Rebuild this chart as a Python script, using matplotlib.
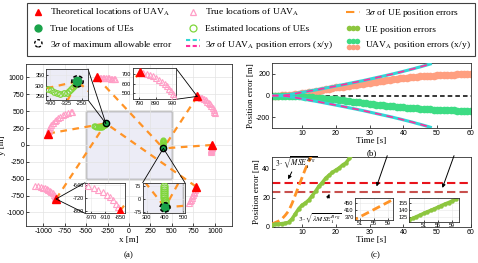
import numpy as np
import matplotlib
matplotlib.use("Agg")
import matplotlib.pyplot as plt
from matplotlib.lines import Line2D
from matplotlib.patches import Circle, Rectangle, ConnectionPatch
from matplotlib.legend_handler import HandlerBase, HandlerLine2D, HandlerPatch

plt.rcParams["font.family"] = "Liberation Sans"
plt.rcParams["mathtext.fontset"] = "stix"
plt.rcParams["axes.unicode_minus"] = False
SERIF = "Liberation Serif"

# -------------------------------
# Data: panel (a) scene [m]
# -------------------------------

uav_x = [-940, -375, 795, 965, 780, -850]
uav_y = [170, 1000, 720, 0, -615, -800]

traj1_x = [-940, -936, -928, -917, -903, -887, -868, -847, -824, -799, -772, -743, -712, -680, -660]
traj1_y = [170, 200, 232, 263, 293, 322, 350, 376, 400, 422, 442, 459, 474, 486, 492]
traj2_x = [-375, -358, -340, -322, -304, -286, -268, -250, -232, -214, -196, -178, -165]
traj2_y = [1000, 999, 998, 996, 995, 993, 991, 989, 987, 984, 982, 979, 977]
traj3_x = [795, 815, 835, 855, 875, 895, 913, 930, 946, 960, 973, 985, 995, 1003]
traj3_y = [720, 712, 702, 690, 676, 660, 642, 622, 600, 576, 550, 522, 494, 468]
traj4_x = [965, 964, 963, 961, 959, 957, 955, 953]
traj4_y = [0, -15, -30, -45, -60, -75, -90, -105]
traj5_x = [780, 775, 769, 762, 755, 747, 739, 731, 722, 713, 704]
traj5_y = [-615, -640, -665, -690, -714, -738, -762, -786, -810, -834, -858]
traj6_x = [-850, -857, -866, -877, -890, -905, -921, -939, -959, -981, -1005, -1031, -1059, -1090]
traj6_y = [-800, -778, -756, -735, -716, -699, -683, -668, -655, -643, -632, -622, -613, -605]

ue_x = [-270, 400]
ue_y = [320, -50]
est1_x = [-410, -396, -381, -366, -351, -336, -322, -310, -299, -290, -283, -277, -272]
est1_y = [283, 276, 269, 264, 261, 262, 266, 273, 282, 292, 302, 311, 318]
est2_x = [392, 392, 393, 394, 395, 396, 397, 398, 399, 399, 400, 400]
est2_y = [78, 66, 54, 42, 30, 18, 7, -4, -15, -26, -36, -45]

# which UAV measures which UE
links = [(0, 0), (5, 0), (4, 0), (1, 1), (2, 1), (3, 1)]

# -------------------------------
# Data: panels (b) and (c)
# -------------------------------

t = list(range(1, 61))
uav_err_x = [0, 0, 0, 1, 2, 4, 7, 11, 16,
             21, 26, 31, 36, 42, 47, 52, 58, 63, 69,
             75, 79, 83, 87, 92, 96, 100, 104, 108, 112,
             117, 122, 126, 131, 135, 140, 144, 149, 153, 158,
             162, 165, 168, 171, 174, 177, 179, 181, 183, 185,
             186, 188, 189, 191, 192, 194, 195, 196, 198, 199, 200]
uav_err_y = [0, 0, 0, 0, -1, -1, -2, -4, -6,
             -8, -10, -13, -15, -18, -21, -24, -27, -30, -32,
             -35, -39, -43, -47, -51, -55, -59, -63, -67, -71,
             -75, -79, -83, -86, -89, -92, -95, -98, -101, -104,
             -107, -110, -113, -116, -119, -122, -124, -126, -128, -130,
             -132, -133, -134, -135, -136, -137, -138, -139, -140, -141, -142]
t_sig = list(range(1, 49))
sig3_uav = [0, 0, 1, 2, 4, 8, 13, 18, 24, 30, 35, 41, 47, 52, 58, 64, 70, 76, 82,
            88, 94, 100, 106, 113, 119, 125, 132, 138, 145, 152, 159, 166, 173, 180,
            187, 194, 201, 209, 216, 224, 232, 240, 248, 257, 265, 274, 283, 292]

mse_brg = [2, 3, 4, 5.5, 8, 11, 16, 22, 28, 34, 40, 45, 50, 56, 62, 68, 75, 82, 89, 96,
           103, 110, 117, 124, 131, 139, 147, 155, 163, 171, 179, 187, 195, 203, 212, 221,
           230, 239, 248, 257, 266, 275, 284, 294, 304, 314, 324, 334, 348, 359,
           370, 381, 392, 403, 414, 425, 436, 447, 458, 469]
lam_mse = [1.5, 1.8, 2.0, 2.3, 2.6, 3.2, 5.5, 9.0, 12.5, 15.0, 16.5, 18.5, 21.5, 24.5,
           28.0, 30.5, 33.5, 35.5, 37.5, 39.0, 40.5, 42.5, 44.0, 47, 50, 53, 56, 59, 62,
           65, 68, 71, 74, 77, 80, 83, 86, 89.5, 93, 96, 99, 102.5, 106, 109, 112, 115,
           118.5, 122, 125.5, 129, 132.5, 136, 139, 142.5, 146, 149.5, 153, 156, 159.5, 163]
thr_max = 30
thr_lam = 24

# -------------------------------
# Colours
# -------------------------------

RED = "#ff0000"
PINK = "#ff9ec6"
ORANGE = "#ff9326"
UE_GREEN = "#1aa34a"
EST_GREEN = "#7fd63a"
ERR_GREEN = "#8dc63f"
MINT = "#3ddc84"
SALMON = "#ff9f80"
CYAN = "#33d6d6"
MAGENTA = "#ff2f9e"


def style_axes(a, size=5):
    a.tick_params(direction="in", length=2, width=0.5, labelsize=size, pad=1.2)
    for s in a.spines.values():
        s.set_linewidth(0.6)
        s.set_color("#303030")


def draw_scene(a, inset=False):
    a.add_patch(Rectangle((-500, -500), 1000, 1000, fc="#ececf6", ec="#7f7f7f", lw=1.0, zorder=0.5))
    for i, j in links:
        a.plot([uav_x[i], ue_x[j]], [uav_y[i], ue_y[j]], color=ORANGE, lw=1.6,
               ls=(0, (3, 2.5)), zorder=2)
    ms_tri = 5 if inset else 4.5
    for tx, ty in [(traj1_x, traj1_y), (traj2_x, traj2_y), (traj3_x, traj3_y),
                   (traj4_x, traj4_y), (traj5_x, traj5_y), (traj6_x, traj6_y)]:
        a.plot(tx, ty, "^", mfc="none", mec=PINK, ms=ms_tri, mew=0.8, zorder=3)
    a.plot(uav_x, uav_y, "^", color=RED, ms=6 if inset else 5.5, zorder=4)
    a.plot(est1_x, est1_y, "o", mfc="none", mec=EST_GREEN, ms=4 if inset else 3.5, mew=0.9, zorder=4)
    a.plot(est2_x, est2_y, "o", mfc="none", mec=EST_GREEN, ms=5 if inset else 3.5, mew=0.9, zorder=4)
    if inset:
        a.plot(ue_x, ue_y, "o", color=UE_GREEN, ms=6, zorder=5)
        for x0, y0 in zip(ue_x, ue_y):
            a.add_patch(Circle((x0, y0), 27, fill=False, ec="k", lw=1.1,
                               ls=(0, (2.5, 1.5)), zorder=6))
    else:
        a.plot(ue_x, ue_y, "o", mfc=UE_GREEN, mec="k", ms=4.5, mew=1.0, zorder=5)


fig = plt.figure(figsize=(4.78, 2.63), dpi=100)

# -------------------------------
# Panel (a)
# -------------------------------

ax = fig.add_axes([0.0544, 0.1407, 0.431, 0.616])
draw_scene(ax)
ax.set_xlim(-1200, 1200)
ax.set_ylim(-1200, 1200)
ticks = [-1000, -750, -500, -250, 0, 250, 500, 750, 1000]
ax.set_xticks(ticks)
ax.set_yticks(ticks)
ax.grid(color="#e3e3e3", lw=0.5)
ax.set_axisbelow(True)
style_axes(ax)
ax.set_xlabel("x [m]", family=SERIF, fontsize=6.5, labelpad=1)
ax.set_ylabel("y [m]", family=SERIF, fontsize=6.5, labelpad=0)

insets = [
    ([0.0962, 0.6198, 0.0879, 0.1179], (-420, -220), (230, 380), [-400, -325, -250], [250, 300, 350],
     [(1, 1), (1, 0)], (ue_x[0], ue_y[0])),
    ([0.2776, 0.6224, 0.0906, 0.1179], (750, 1015), (440, 760), [790, 890, 990], [500, 600, 700],
     [(1, 1), (1, 0)], (uav_x[2], uav_y[2])),
    ([0.1778, 0.1889, 0.0837, 0.1163], (-995, -829), (-815, -625), [-970, -910, -850], [-800, -720, -640],
     [(0, 1), (0, 0)], (uav_x[5], uav_y[5])),
    ([0.2985, 0.1889, 0.0885, 0.1163], (278, 509), (-85, 95), [300, 400, 500], [-75, 0, 75],
     [(0, 1), (1, 1)], (ue_x[1], ue_y[1])),
]
for rect, xl, yl, xt, yt, corners, target in insets:
    ai = fig.add_axes(rect, zorder=5)
    draw_scene(ai, inset=True)
    ai.set_xlim(*xl)
    ai.set_ylim(*yl)
    ai.set_xticks(xt)
    ai.set_yticks(yt)
    ai.grid(color="#e6e6e6", lw=0.4)
    style_axes(ai, size=4)
    ai.tick_params(length=1.2, pad=1)
    for c in corners:
        con = ConnectionPatch(xyA=c, coordsA=ai.transAxes, xyB=target, coordsB=ax.transData,
                              color="k", lw=0.6, zorder=4)
        fig.add_artist(con)

# -------------------------------
# Panel (b)
# -------------------------------

axb = fig.add_axes([0.5685, 0.513, 0.4165, 0.247])
axb.axhline(0, color="k", ls=(0, (3, 2)), lw=1.1, zorder=1.5)
axb.plot(t, uav_err_x, "o", color=SALMON, ms=5.5, mew=0, zorder=2)
axb.plot(t, uav_err_y, "o", color=MINT, ms=5.5, mew=0, zorder=2)
sig_neg = [-v for v in sig3_uav]
for s in (sig3_uav, sig_neg):
    axb.plot(t_sig, s, color=CYAN, lw=2.2, zorder=3)
    axb.plot(t_sig, s, color=MAGENTA, lw=1.2, ls=(0, (4, 3)), zorder=3.5)
axb.set_xlim(1, 60)
axb.set_ylim(-300, 300)
axb.set_xticks([10, 20, 30, 40, 50, 60])
axb.set_yticks([-200, 0, 200])
style_axes(axb)
axb.set_xlabel("Time [s]", family=SERIF, fontsize=6.5, labelpad=0.5)
axb.set_ylabel("Position error [m]", family=SERIF, fontsize=6.5, labelpad=1)

# -------------------------------
# Panel (c)
# -------------------------------

axc = fig.add_axes([0.5685, 0.137, 0.4165, 0.266])
axc.plot(t, mse_brg, color=ORANGE, lw=2, ls=(0, (3, 1.5)), zorder=3)
axc.plot(t, lam_mse, "-o", color=ERR_GREEN, lw=2.5, ms=3.2, mew=0, zorder=3)
axc.axhline(thr_max, color="#e8131b", lw=1.5, ls=(0, (4, 2)), zorder=2)
axc.axhline(thr_lam, color="#c8504d", lw=1.5, ls=(0, (4, 2)), zorder=2)
axc.set_xlim(1, 60)
axc.set_ylim(0, 48)
axc.set_xticks([10, 20, 30, 40, 50, 60])
axc.set_yticks([0, 20, 40])
style_axes(axc)
axc.set_xlabel("Time [s]", family=SERIF, fontsize=6.5, labelpad=0.5)
axc.set_ylabel("Position error [m]", family=SERIF, fontsize=6.5, labelpad=1)

arrow = dict(arrowstyle="-|>", lw=0.7, color="k", mutation_scale=5)
axc.text(2.0, 44, r"$3\cdot\sqrt{MSE_1^{Brg}}$", fontsize=5.5, va="center", zorder=6)
axc.annotate("", xy=(5.5, 31), xytext=(7.3, 39.5), arrowprops=arrow)
axc.text(8.8, 5.8, r"$3\cdot\sqrt{\lambda MSE_1^{Brg}}$", fontsize=5.3, va="center", zorder=6)
axc.annotate("", xy=(18.4, 24.5), xytext=(17.3, 18), arrowprops=arrow)
axc.annotate("", xy=(31.8, 26), xytext=(35.5, 50.7), arrowprops=arrow, annotation_clip=False)
axc.annotate("", xy=(51.3, 25), xytext=(55.3, 50.7), arrowprops=arrow, annotation_clip=False)

axe = fig.add_axes([0.7427, 0.1635, 0.080, 0.0848], zorder=5)
axe.plot(t, mse_brg, color=ORANGE, lw=2, ls=(0, (3, 1.5)))
axe.set_xlim(49.5, 60.5)
axe.set_ylim(350, 485)
axe.set_xticks([51, 55, 59])
axe.set_yticks([370, 410, 450])
axe.grid(color="#e6e6e6", lw=0.4)
style_axes(axe, size=4)
axe.tick_params(length=1.2, pad=1)

axf = fig.add_axes([0.8563, 0.1559, 0.1046, 0.0913], zorder=5)
axf.plot(t, lam_mse, "-o", color=ERR_GREEN, lw=2.5, ms=3.2, mew=0)
axf.set_xlim(47, 61)
axf.set_ylim(114, 166)
axf.set_xticks([51, 55, 59])
axf.set_yticks([125, 140, 155])
axf.grid(color="#e6e6e6", lw=0.4)
style_axes(axf, size=4)
axf.tick_params(length=1.2, pad=1)

fig.text(0.27, 0.023, "(a)", family=SERIF, fontsize=6.5, ha="center")
fig.text(0.778, 0.411, "(b)", family=SERIF, fontsize=6.5, ha="center")
fig.text(0.785, 0.023, "(c)", family=SERIF, fontsize=6.5, ha="center")

# -------------------------------
# Legend
# -------------------------------


class TwoRows(HandlerBase):
    def create_artists(self, legend, orig_handle, xdescent, ydescent, width, height, fontsize, trans):
        out = []
        for k, h in enumerate(orig_handle):
            y = height * (0.95 - 0.9 * k) - ydescent
            if h.get_marker() not in (None, "None", "", " "):
                xs = np.array([0.2, 0.5, 0.8]) * width - xdescent
            else:
                xs = np.array([0.0, 1.0]) * width - xdescent
            ln = Line2D(xs, [y] * len(xs))
            ln.update_from(h)
            ln.set_transform(trans)
            out.append(ln)
        return out


def circle_patch(legend, orig_handle, xdescent, ydescent, width, height, fontsize):
    return Circle((width / 2 - xdescent, height / 2 - ydescent), height * 0.55)


h_red = Line2D([], [], marker="^", ls="none", color=RED, ms=5)
h_pink = Line2D([], [], marker="^", ls="none", mfc="none", mec=PINK, ms=5, mew=0.9)
h_orange = Line2D([], [], color=ORANGE, lw=1.5, ls=(0, (4, 2.5, 1, 2.5)))
h_ue = Line2D([], [], marker="o", ls="none", color=UE_GREEN, ms=5)
h_est = Line2D([], [], marker="o", ls="none", mfc="none", mec=EST_GREEN, ms=5, mew=0.9)
h_ueerr = Line2D([], [], marker="o", ls="none", color=ERR_GREEN, ms=4, mew=0)
h_circ = Circle((0, 0), 1, fc="none", ec="k", lw=1.0, ls=(0, (2, 1.5)))
h_sig = (Line2D([], [], color=CYAN, lw=1.5, ls=(0, (2, 1.2))),
         Line2D([], [], color=MAGENTA, lw=1.5, ls=(0, (2, 1.2))))
h_uaverr = (Line2D([], [], marker="o", ls="none", color=MINT, ms=4, mew=0),
            Line2D([], [], marker="o", ls="none", color=SALMON, ms=4, mew=0))

handles = [h_red, h_ue, h_circ, h_pink, h_est, h_sig, h_orange, h_ueerr, h_uaverr]
labels = [r"Theoretical locations of UAV$_{\mathrm{A}}$",
          "True locations of UEs",
          r"3$\sigma$ of maximum allowable error",
          r"True locations of UAV$_{\mathrm{A}}$",
          "Estimated locations of UEs",
          r"3$\sigma$ of UAV$_{\mathrm{A}}$ position errors (x/y)",
          r"3$\sigma$ of UE position errors",
          "UE position errors",
          r"UAV$_{\mathrm{A}}$ position errors (x/y)"]

leg = fig.legend(handles, labels, loc="upper left", bbox_to_anchor=(0.0565, 0.806, 0.937, 0.183),
                 mode="expand", ncol=3, fancybox=False, edgecolor="#404040", framealpha=1,
                 borderaxespad=0, borderpad=0.45, labelspacing=0.62, handlelength=1.5,
                 handletextpad=0.5, columnspacing=0.5, prop={"family": SERIF, "size": 6.8},
                 handler_map={tuple: TwoRows(), h_ueerr: HandlerLine2D(numpoints=3),
                              Circle: HandlerPatch(patch_func=circle_patch)})
leg.get_frame().set_linewidth(0.8)

fig.savefig("out.png", dpi=100)
